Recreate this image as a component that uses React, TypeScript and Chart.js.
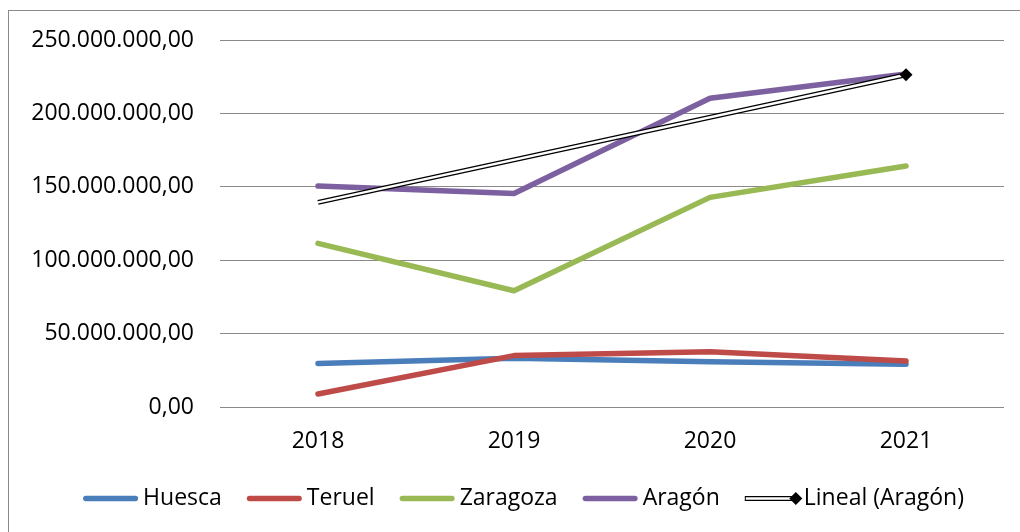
import { useEffect, useRef } from 'react';
import { Chart, registerables } from 'chart.js';

Chart.register(...registerables);

const FONT = '"Open Sans"';
const FONT_SIZE = 23;

const years = ['2018', '2019', '2020', '2021'];
const huesca = [29.7e6, 33.2e6, 30.9e6, 29.1e6];
const teruel = [8.9e6, 35.0e6, 37.7e6, 31.3e6];
const zaragoza = [111.5e6, 79.2e6, 142.8e6, 164.2e6];
const aragon = [150.5e6, 145.5e6, 210.3e6, 226.8e6];
const trendAragon = [139.4e6, null, null, 226.3e6];

const yTickValues = [0, 50e6, 100e6, 150e6, 200e6, 250e6];
const yTickLabels = ['0,00', '50.000.000,00', '100.000.000,00', '150.000.000,00', '200.000.000,00', '250.000.000,00'];

const seriesNames = ['Huesca', 'Teruel', 'Zaragoza', 'Aragón'];
const seriesColors = ['#4a7ebb', '#be4b48', '#98b954', '#7d60a0'];
const trendName = 'Lineal (Aragón)';

export default function App() {
  const ref = useRef<HTMLCanvasElement>(null);

  useEffect(() => {
    if (!ref.current) return;

    const legendPlugin = {
      id: 'customLegend',
      afterDraw(chart: any) {
        const ctx = chart.ctx as CanvasRenderingContext2D;
        ctx.save();
        ctx.font = `${FONT_SIZE}px ${FONT}`;
        ctx.textBaseline = 'middle';
        ctx.fillStyle = '#000';
        const items = [
          ...seriesNames.map((t, i) => ({ text: t, color: seriesColors[i], lineW: 55, gap: 5, trend: false })),
          { text: trendName, color: '#000', lineW: 51, gap: 8, trend: true },
        ];
        const gapItem = 25;
        let total = 0;
        items.forEach((it, i) => {
          total += it.lineW + it.gap + ctx.measureText(it.text).width + (i > 0 ? gapItem : 0);
        });
        let x = 514.5 - total / 2;
        const y = 487.5;
        items.forEach((it) => {
          if (!it.trend) {
            ctx.beginPath();
            ctx.lineCap = 'round';
            ctx.lineWidth = 5.5;
            ctx.strokeStyle = it.color;
            ctx.moveTo(x + 2.75, y);
            ctx.lineTo(x + it.lineW - 2.75, y);
            ctx.stroke();
          } else {
            ctx.lineCap = 'butt';
            ctx.beginPath();
            ctx.lineWidth = 5;
            ctx.strokeStyle = '#000';
            ctx.moveTo(x, y);
            ctx.lineTo(x + it.lineW, y);
            ctx.stroke();
            ctx.beginPath();
            ctx.lineWidth = 2.4;
            ctx.strokeStyle = '#fff';
            ctx.moveTo(x + 1, y);
            ctx.lineTo(x + it.lineW, y);
            ctx.stroke();
            const cx = x + it.lineW;
            ctx.beginPath();
            ctx.fillStyle = '#000';
            ctx.moveTo(cx, y - 6.5);
            ctx.lineTo(cx + 6.5, y);
            ctx.lineTo(cx, y + 6.5);
            ctx.lineTo(cx - 6.5, y);
            ctx.closePath();
            ctx.fill();
          }
          x += it.lineW + it.gap;
          ctx.fillStyle = '#000';
          ctx.fillText(it.text, x, y);
          x += ctx.measureText(it.text).width + gapItem;
        });
        ctx.restore();
      },
    };

    const lineDs = (label: string, data: number[], color: string, order: number) => ({
      label,
      data,
      order,
      borderColor: color,
      backgroundColor: color,
      borderWidth: 5.5,
      pointRadius: 0,
      borderCapStyle: 'round' as const,
      borderJoinStyle: 'round' as const,
      tension: 0,
    });

    const chart = new Chart(ref.current, {
      type: 'line',
      data: {
        labels: years,
        datasets: [
          lineDs(seriesNames[0], huesca, seriesColors[0], 5),
          lineDs(seriesNames[1], teruel, seriesColors[1], 4),
          lineDs(seriesNames[2], zaragoza, seriesColors[2], 3),
          lineDs(seriesNames[3], aragon, seriesColors[3], 2),
          {
            label: trendName + ' outer',
            data: trendAragon,
            order: 1,
            borderColor: '#000',
            borderWidth: 5,
            pointRadius: 0,
            spanGaps: true,
            tension: 0,
          },
          {
            label: trendName,
            data: trendAragon,
            order: 0,
            borderColor: '#fff',
            borderWidth: 2.4,
            pointRadius: [0, 0, 0, 6.5],
            pointStyle: 'rectRot',
            pointBackgroundColor: '#000',
            pointBorderColor: '#000',
            pointBorderWidth: 0,
            spanGaps: true,
            tension: 0,
          },
        ] as any,
      },
      options: {
        responsive: false,
        animation: false,
        devicePixelRatio: 1,
        layout: { padding: { left: 0, right: 16, top: 29, bottom: 0 } },
        plugins: {
          legend: { display: false },
          tooltip: { enabled: false },
        },
        scales: {
          x: {
            offset: true,
            grid: { display: false, drawTicks: false },
            border: { display: false },
            ticks: {
              color: '#000',
              font: { family: FONT, size: FONT_SIZE },
              padding: 21,
            },
            afterFit(scale: any) {
              scale.height = 125;
            },
          },
          y: {
            min: 0,
            max: 250e6,
            afterBuildTicks(scale: any) {
              scale.ticks = yTickValues.map((v) => ({ value: v }));
            },
            grid: {
              color: '#898989',
              lineWidth: 1,
              drawTicks: true,
              tickLength: 26,
              tickColor: 'rgba(0,0,0,0)',
            },
            border: { display: false },
            ticks: {
              color: '#000',
              font: { family: FONT, size: FONT_SIZE },
              padding: 0,
              callback: (v: any) => {
                const i = yTickValues.indexOf(Number(v));
                return i >= 0 ? yTickLabels[i] : '';
              },
            },
            afterFit(scale: any) {
              scale.width = 211;
            },
          },
        },
      },
      plugins: [legendPlugin],
    });

    return () => chart.destroy();
  }, []);

  return (
    <div
      style={{
        position: 'fixed',
        left: 8,
        top: 10,
        width: 1012,
        height: 522,
        boxSizing: 'border-box',
        borderTop: '1px solid #898989',
        borderLeft: '1px solid #898989',
        background: '#fff',
      }}
    >
      <canvas ref={ref} width={1011} height={521} style={{ display: 'block' }} />
    </div>
  );
}
